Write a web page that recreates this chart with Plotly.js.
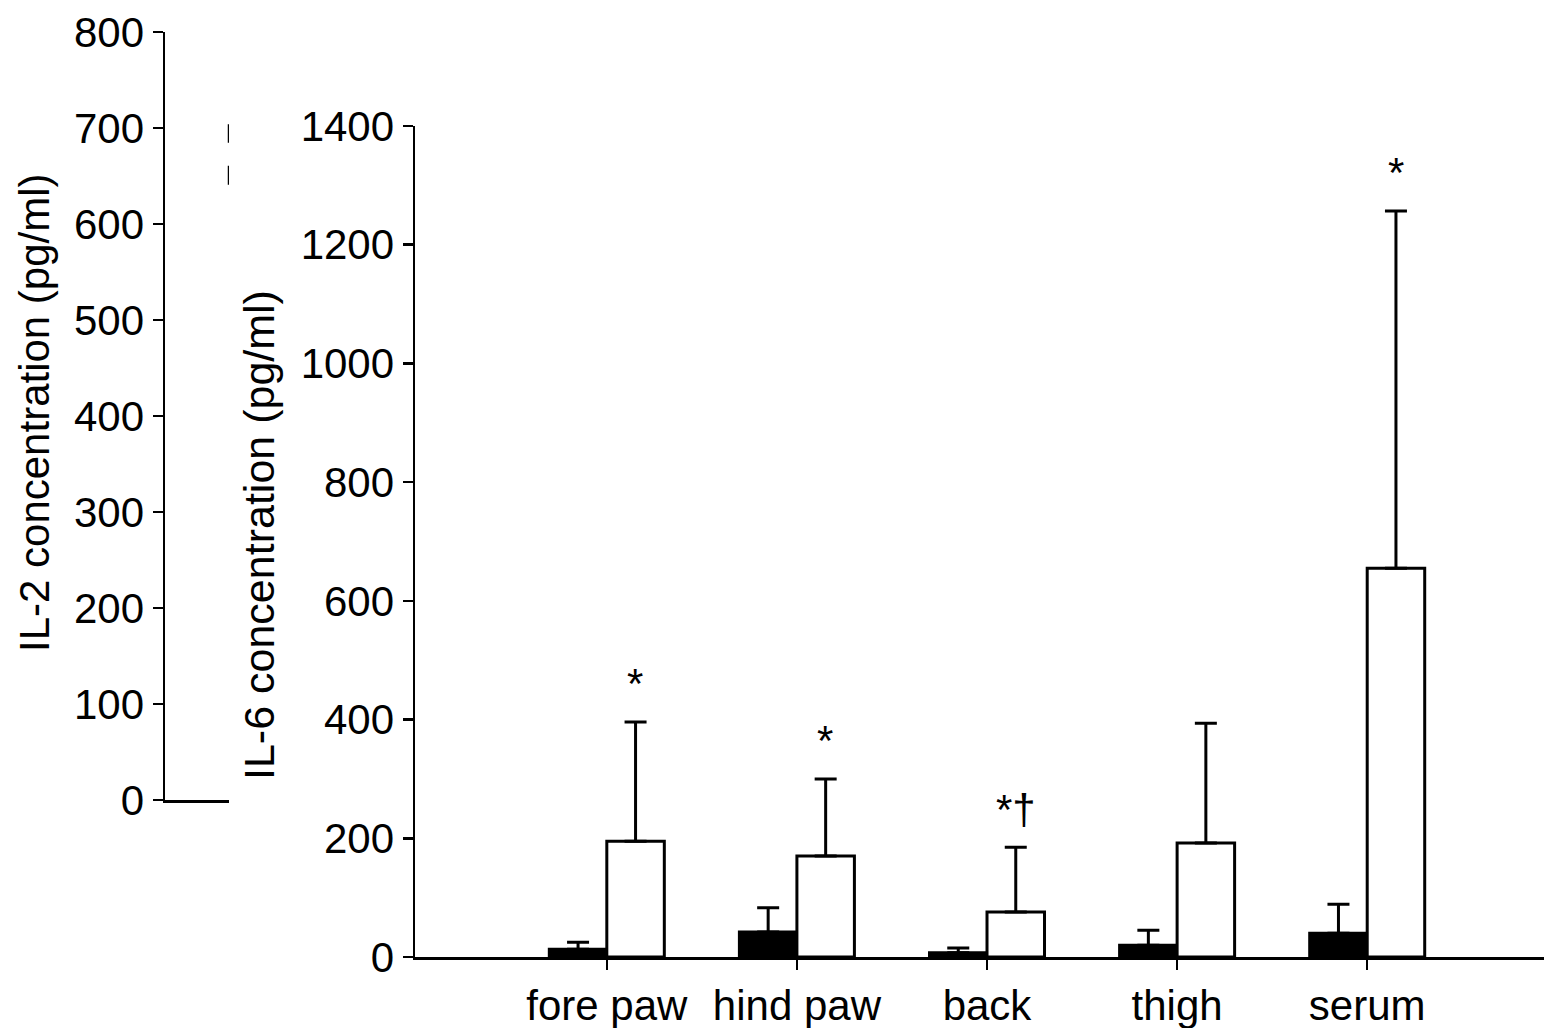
<!DOCTYPE html>
<html>
<head>
<meta charset="utf-8">
<script src="https://cdn.plot.ly/plotly-3.0.1.min.js"></script>
<style>html,body{margin:0;padding:0;background:#fff}#chart{width:1544px;height:1028px}</style>
</head>
<body>
<div id="chart"></div>
<script>
const categories = ["fore paw", "hind paw", "back", "thigh", "serum"];
const controlIL6 = [13, 42, 7, 20, 40];
const controlErr = [12, 41, 8, 25, 49];
const treatedIL6 = [195, 170, 76, 192, 655];
const treatedErr = [201, 130, 109, 202, 602];
const markers = ["*", "*", "*†", "", "*"];
const il2Segment = [641, 704];

const W = 1544, H = 1028;
const fx = p => p / W;
const fy = p => (H - p) / H;
const FONT = "Liberation Sans, Arial, sans-serif";
const FS = 42;

const catIdx = categories.map((c, i) => i);

const traces = [
  {
    type: "bar", x: catIdx, y: controlIL6, xaxis: "x2", yaxis: "y2",
    marker: {color: "#000", line: {color: "#000", width: 3}},
    error_y: {type: "data", symmetric: false, array: controlErr, arrayminus: controlErr.map(() => 0),
      color: "#000", thickness: 3, width: 11},
    hoverinfo: "skip"
  },
  {
    type: "bar", x: catIdx, y: treatedIL6, xaxis: "x2", yaxis: "y2",
    marker: {color: "#fff", line: {color: "#000", width: 3}},
    error_y: {type: "data", symmetric: false, array: treatedErr, arrayminus: treatedErr.map(() => 0),
      color: "#000", thickness: 3, width: 11},
    hoverinfo: "skip"
  },
  {
    type: "scatter", mode: "lines", x: [1, 1], y: il2Segment, xaxis: "x", yaxis: "y",
    line: {color: "#000", width: 2.5, dash: "19px,23px"}, hoverinfo: "skip"
  }
];

const annotations = [];
markers.forEach((m, i) => {
  if (!m) return;
  annotations.push({
    x: i + 0.15, y: treatedIL6[i] + treatedErr[i], xref: "x2", yref: "y2",
    text: m, showarrow: false, xanchor: "center", yanchor: "middle", yshift: 38,
    font: {family: FONT, size: FS, color: "#000"}
  });
});
annotations.push({
  x: fx(34), y: fy(413), xref: "paper", yref: "paper", text: "IL-2 concentration (pg/ml)",
  xanchor: "center", yanchor: "middle",
  textangle: -90, showarrow: false, font: {family: FONT, size: FS, color: "#000"}
});
annotations.push({
  x: fx(259), y: fy(535), xref: "paper", yref: "paper", text: "IL-6 concentration (pg/ml)",
  xanchor: "center", yanchor: "middle",
  textangle: -90, showarrow: false, font: {family: FONT, size: 43, color: "#000"}
});

const layout = {
  width: W, height: H,
  margin: {l: 0, r: 0, t: 0, b: 0},
  paper_bgcolor: "#fff", plot_bgcolor: "rgba(0,0,0,0)",
  showlegend: false,
  barmode: "group", bargap: 0.395, bargroupgap: 0,
  font: {family: FONT, color: "#000"},
  xaxis: {
    domain: [fx(165), fx(229)], range: [0, 1], anchor: "y",
    showline: true, linecolor: "#000", linewidth: 2.5, showgrid: false, zeroline: false,
    showticklabels: false, ticks: ""
  },
  yaxis: {
    domain: [fy(800), fy(32)], range: [0, 800], anchor: "x",
    tickvals: [0, 100, 200, 300, 400, 500, 600, 700, 800],
    showline: true, linecolor: "#000", linewidth: 2.5, showgrid: false, zeroline: false,
    ticks: "outside", ticklen: 10, tickwidth: 2.5, tickcolor: "#000",
    tickfont: {family: FONT, size: FS, color: "#000"}
  },
  xaxis2: {
    domain: [fx(415), 1], range: [-1.009, 4.93], anchor: "y2",
    tickvals: catIdx, ticktext: categories,
    showline: true, linecolor: "#000", linewidth: 2.5, showgrid: false, zeroline: false,
    ticks: "outside", ticklen: 10, tickwidth: 2.5, tickcolor: "#000",
    tickfont: {family: FONT, size: FS, color: "#000"}
  },
  yaxis2: {
    domain: [fy(957), fy(126)], range: [0, 1400], anchor: "x2",
    tickvals: [0, 200, 400, 600, 800, 1000, 1200, 1400],
    showline: true, linecolor: "#000", linewidth: 2.5, showgrid: false, zeroline: false,
    ticks: "outside", ticklen: 10, tickwidth: 2.5, tickcolor: "#000",
    tickfont: {family: FONT, size: FS, color: "#000"}
  },
  annotations: annotations
};

Plotly.newPlot("chart", traces, layout, {displayModeBar: false, staticPlot: true});
</script>
</body>
</html>
